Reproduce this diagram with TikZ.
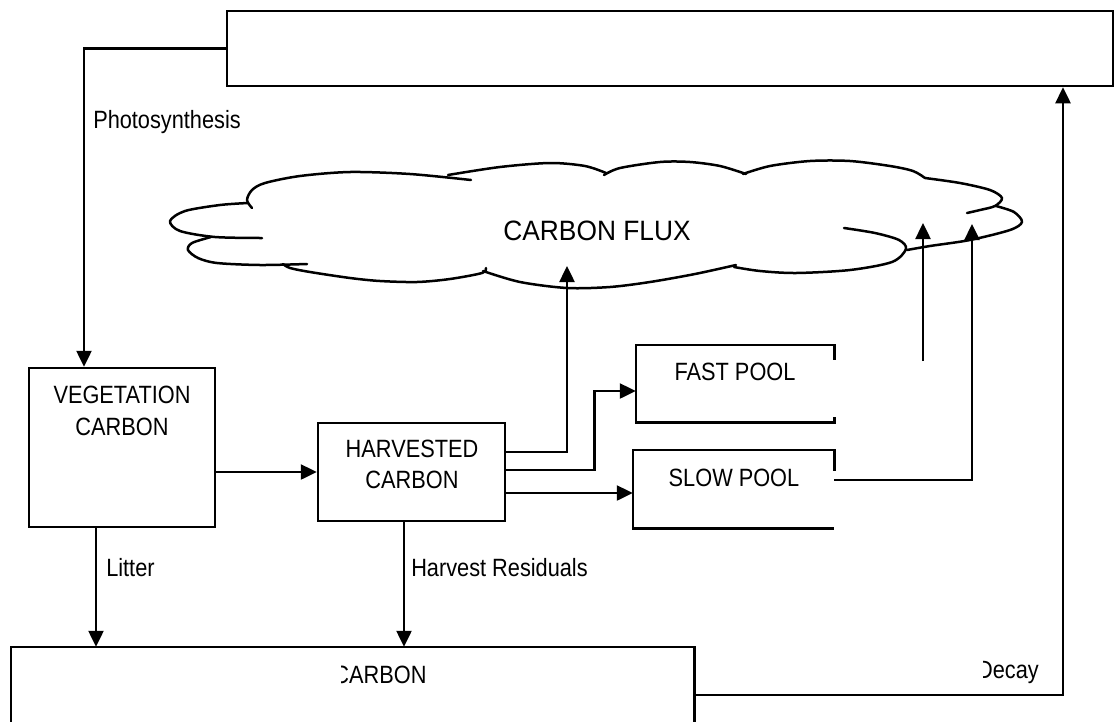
\documentclass[tikz,border=0pt]{standalone}
\usepackage{fontspec}
\setmainfont{Liberation Sans}[FakeStretch=0.87]
\newfontfamily\fluxfont{Liberation Sans}[FakeStretch=0.94]
\usetikzlibrary{arrows.meta,calc}
\begin{document}
\begin{tikzpicture}[x=1pt,y=-1pt,
  line width=2.5pt, line join=miter,
  box/.style={draw, rectangle, inner sep=0pt, line width=2.5pt},
  frame/.style={rectangle, inner sep=0pt},
  txt/.style={inner sep=0pt, font=\fontsize{25}{25}\selectfont},
  arr/.style={-{Triangle[length=16pt,width=15pt]}},
  cl/.style={line width=2.5pt, line cap=round, line join=round},
]
\useasboundingbox[fill=white] (0,0) rectangle (1114,721);

% boxes
\node[box, minimum width=886pt, minimum height=75pt] (atm) at (670,48.5) {};
\node[box, minimum width=186pt, minimum height=159pt] (veg) at (122,447.5) {};
\node[box, minimum width=187pt, minimum height=98pt] (harv) at (411.5,472) {};
\node[frame, minimum width=196pt, minimum height=75pt] (fast) at (735,383.5) {};
\node[frame, minimum width=199pt, minimum height=76pt] (slow) at (733.5,489) {};
\node[frame, minimum width=681pt, minimum height=90pt] (soil) at (352.5,693) {};

\draw ([yshift=-15pt]fast.north east) -- (fast.north east) -- (fast.north west) -- (fast.south west) -- (fast.south east) -- ++(0,-5);
\draw ([yshift=-21pt]slow.north east) -- (slow.north east) -- (slow.north west) -- (slow.south west) -- (slow.south east);
\draw (soil.south west) -- (soil.north west) -- (soil.north east) -- (soil.south east);

% cloud
\draw[cl] plot[smooth] coordinates {(262,238) (215,237) (180,231) (170,221) (185,211) (220,205) (248,203)};
\draw[cl] plot[smooth] coordinates {(252,208) (247,200) (252,190) (265,183) (300,176) (350,172) (410,174) (471,180)};
\draw[cl] plot[smooth] coordinates {(448,175) (500,167) (550,163) (585,166) (606,173)};
\draw[cl] plot[smooth] coordinates {(604,175) (620,168) (660,162) (690,162) (720,166) (746,174)};
\draw[cl] plot[smooth] coordinates {(743,174) (770,166) (810,161) (850,161) (890,166) (913,171) (925,178)};
\draw[cl] plot[smooth] coordinates {(925,178) (960,183) (990,190) (1002,198) (995,206) (980,210) (967,213)};
\draw[cl] plot[smooth] coordinates {(996,206) (1014,212) (1022,222) (1010,230) (970,240) (930,246) (907,250)};
\draw[cl] plot[smooth] coordinates {(844,228) (875,233) (899,240) (906,249) (892,262) (850,270) (796,273) (760,271) (734,267)};
\draw[cl] plot[smooth] coordinates {(483,271) (520,282) (567,288) (610,287) (650,282) (695,274) (736,265)};
\draw[cl] plot[smooth] coordinates {(486,268) (482,273) (450,279) (417,282) (380,281) (350,278) (310,272) (290,268) (283,264)};
\draw[cl] plot[smooth] coordinates {(211,237) (192,243) (188,250) (198,258) (217,263) (260,265) (307,264)};

% texts
\node[txt, anchor=base] (vegt1) at (122,403) {VEGETATION};
\node[txt, anchor=base] (vegt2) at (122,435) {CARBON};
\node[txt, anchor=base] (harvt1) at (412,457) {HARVESTED};
\node[txt, anchor=base] (harvt2) at (412,488) {CARBON};
\node[txt, anchor=base] (fastt) at (735,380) {FAST POOL};
\node[txt, anchor=base] (slowt) at (734,486) {SLOW POOL};
\begin{scope}
  \clip (341,650) rectangle (690,721);
  \node[txt, anchor=base] (soilt) at (380,683) {CARBON};
\end{scope}
\node[anchor=base, inner sep=0pt, font=\fluxfont\fontsize{28}{28}\selectfont] (flux) at (597,240) {CARBON FLUX};

\node[txt, anchor=base west] (photo) at (92,128) {Photosynthesis};
\node[txt, anchor=base west] (litter) at (105,576) {Litter};
\node[txt, anchor=base west] (resid) at (410,576) {Harvest Residuals};
\begin{scope}
  \clip (983,640) rectangle (1058,692);
  \node[txt, anchor=base east] (decay) at (1040,678) {Decay};
\end{scope}

% connectors
\coordinate (ph) at ([xshift=-38pt]veg.north);
\draw[arr] (atm.west) -| (ph);
\coordinate (lt) at ([xshift=-26pt]veg.south);
\draw[arr] (lt) -- (lt |- soil.north);
\draw[arr] (veg.east |- harv.west) -- (harv.west);
\coordinate (hr) at ([xshift=-7.5pt]harv.south);
\draw[arr] (hr) -- (hr |- soil.north);
\coordinate (h1) at ([yshift=20pt]harv.east);
\coordinate (h2) at ([yshift=2pt]harv.east);
\coordinate (h3) at ([yshift=-21pt]harv.east);
\coordinate (c1) at (567,266);
\draw[arr] (h1) -| (c1);
\coordinate (f2) at ([yshift=-7.5pt]fast.west);
\draw[arr] (h2) -- ++(88,0) |- (f2);
\draw[arr] (h3) -- (h3 -| slow.west);
\coordinate (fa) at (923,361);
\coordinate (c2) at (923,223);
\draw[arr] (fa) -- (c2);
\coordinate (s1) at ([yshift=9pt]slow.east);
\coordinate (c3) at (972,224);
\draw[arr] (s1) -| (c3);
\coordinate (d0) at ([yshift=-2pt]soil.east);
\coordinate (dt) at ([xshift=393pt]atm.south);
\draw[arr] (d0) -| (dt);
\end{tikzpicture}
\end{document}
